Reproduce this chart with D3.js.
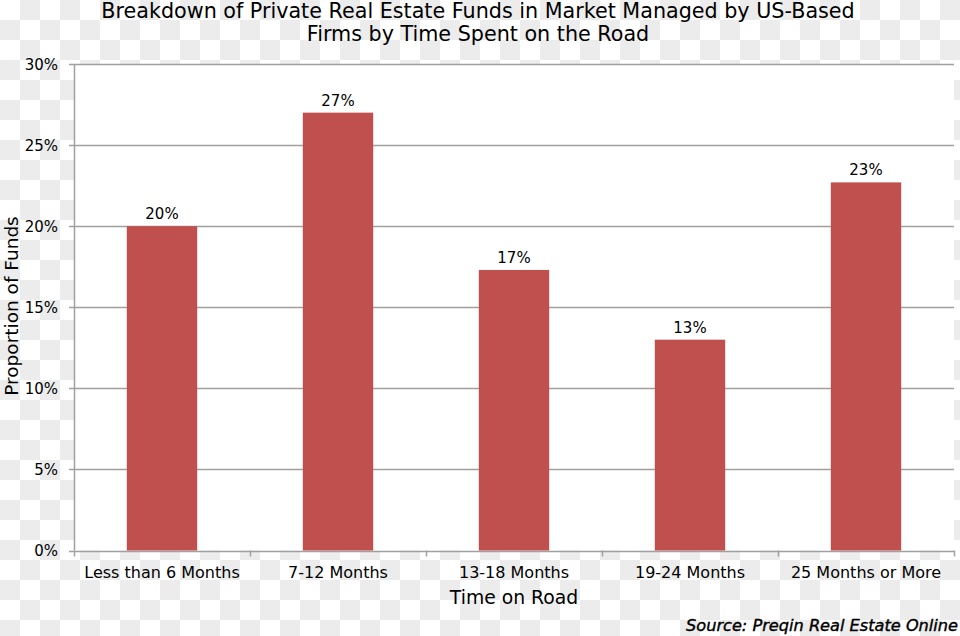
<!DOCTYPE html>
<html>
<head>
<meta charset="utf-8">
<script src="https://cdn.jsdelivr.net/npm/d3@7"></script>
<style>
  html, body { margin: 0; padding: 0; }
  body { width: 960px; height: 636px; overflow: hidden; }
  text { font-family: "DejaVu Sans", sans-serif; fill: #000; }
</style>
</head>
<body>
<div id="chart-container"></div>
<script>
// data
let categories = ["Less than 6 Months", "7-12 Months", "13-18 Months", "19-24 Months", "25 Months or More"];
let values = [20.0, 27.0, 17.3, 13.0, 22.7];
let valueLabels = ["20%", "27%", "17%", "13%", "23%"];
let yTicks = [0, 5, 10, 15, 20, 25, 30];
let titleLines = ["Breakdown of Private Real Estate Funds in Market Managed by US-Based", "Firms by Time Spent on the Road"];

let w = 960, h = 636;
let plot = {left: 74, right: 954, top: 64, bottom: 550.5};

let svg = d3.select("#chart-container")
  .append("svg")
  .attr("width", w)
  .attr("height", h)
  .attr("viewBox", "0 0 " + w + " " + h);

// checkered background (transparent png look)
let defs = svg.append("defs");
let pat = defs.append("pattern")
  .attr("id", "checker")
  .attr("width", 40)
  .attr("height", 40)
  .attr("patternUnits", "userSpaceOnUse");
pat.append("rect").attr("width", 40).attr("height", 40).attr("fill", "#fff");
pat.append("rect").attr("x", 20).attr("y", 0).attr("width", 20).attr("height", 20).attr("fill", "#ececec");
pat.append("rect").attr("x", 0).attr("y", 20).attr("width", 20).attr("height", 20).attr("fill", "#ececec");
svg.append("rect").attr("width", w).attr("height", h).attr("fill", "url(#checker)");

// plot area
svg.append("rect")
  .attr("x", plot.left)
  .attr("y", plot.top)
  .attr("width", plot.right - plot.left)
  .attr("height", plot.bottom - plot.top)
  .attr("fill", "#fff");

let x = d3.scaleBand()
  .domain(categories)
  .range([plot.left, plot.right])
  .paddingInner(0.6)
  .paddingOuter(0.3);

let xTicks = d3.scaleBand()
  .domain(categories)
  .range([plot.left, plot.right]);

let y = d3.scaleLinear()
  .domain([0, 30])
  .range([plot.bottom, plot.top]);

// gridlines
svg.append("g").selectAll("line").data(yTicks).enter().append("line")
  .attr("x1", plot.left - 5)
  .attr("x2", plot.right)
  .attr("y1", d => Math.round(y(d)) + 0.5)
  .attr("y2", d => Math.round(y(d)) + 0.5)
  .attr("stroke", "#a0a0a0")
  .attr("stroke-width", 1.5);

// y axis line
svg.append("line")
  .attr("x1", plot.left + 0.5)
  .attr("x2", plot.left + 0.5)
  .attr("y1", plot.top)
  .attr("y2", plot.bottom)
  .attr("stroke", "#a0a0a0")
  .attr("stroke-width", 1.5);

// y tick labels
svg.append("g").selectAll("text").data(yTicks).enter().append("text")
  .attr("x", 58)
  .attr("y", d => y(d) + 5.5)
  .text(d => d + "%")
  .style("text-anchor", "end")
  .style("font-size", "15px");

// bars
svg.append("g").selectAll("rect").data(values).enter().append("rect")
  .attr("x", (d, i) => x(categories[i]))
  .attr("y", d => y(d))
  .attr("width", x.bandwidth())
  .attr("height", d => y(0) - y(d))
  .attr("fill", "#c0504d");

// value labels
svg.append("g").selectAll("text").data(values).enter().append("text")
  .attr("x", (d, i) => x(categories[i]) + x.bandwidth() / 2)
  .attr("y", d => y(d) - 7)
  .text((d, i) => valueLabels[i])
  .style("text-anchor", "middle")
  .style("font-size", "15px");

// x axis ticks
let tickPos = categories.map(c => xTicks(c)).concat([plot.right]);
svg.append("g").selectAll("line").data(tickPos).enter().append("line")
  .attr("x1", d => Math.round(d) + 0.5)
  .attr("x2", d => Math.round(d) + 0.5)
  .attr("y1", plot.bottom)
  .attr("y2", plot.bottom + 6)
  .attr("stroke", "#a0a0a0")
  .attr("stroke-width", 1.5);

// x tick labels
svg.append("g").selectAll("text").data(categories).enter().append("text")
  .attr("x", d => xTicks(d) + xTicks.bandwidth() / 2)
  .attr("y", 578)
  .text(d => d)
  .style("text-anchor", "middle")
  .style("font-size", "16px");

// axis titles
svg.append("text")
  .attr("x", 514)
  .attr("y", 604)
  .text("Time on Road")
  .style("text-anchor", "middle")
  .style("font-size", "18.8px");

svg.append("text")
  .attr("transform", "translate(18,306)rotate(-90)")
  .text("Proportion of Funds")
  .style("text-anchor", "middle")
  .style("font-size", "18.5px");

// title
svg.append("g").selectAll("text").data(titleLines).enter().append("text")
  .attr("x", 478)
  .attr("y", (d, i) => 18 + i * 23)
  .text(d => d)
  .style("text-anchor", "middle")
  .style("font-size", "20.7px");

// source
svg.append("text")
  .attr("x", 958)
  .attr("y", 631)
  .attr("textLength", 272)
  .attr("lengthAdjust", "spacingAndGlyphs")
  .text("Source: Preqin Real Estate Online")
  .style("text-anchor", "end")
  .style("font-size", "16px")
  .style("font-style", "italic")
  .style("stroke", "#000")
  .style("stroke-width", 0.4);
</script>
</body>
</html>
